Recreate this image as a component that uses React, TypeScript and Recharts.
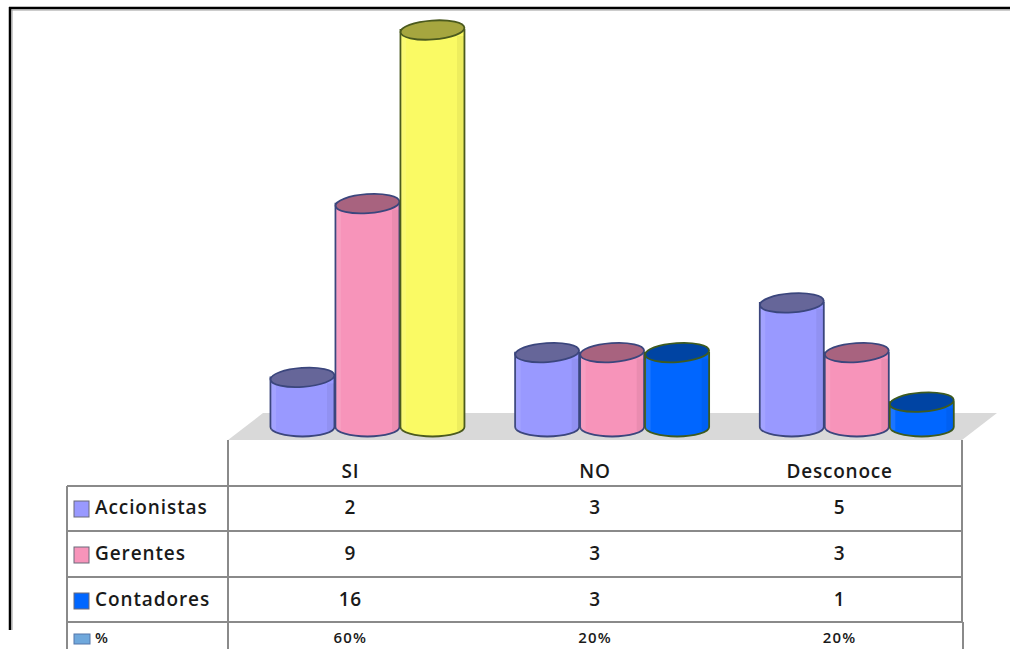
import React from 'react';
import { BarChart, Bar, XAxis, YAxis, Cell, Customized } from 'recharts';

// --- Data ---
const categories = ['SI', 'NO', 'Desconoce'];
const accionistas = [2, 3, 5];
const gerentes = [9, 3, 3];
const contadores = [16, 3, 1];
const porcentaje = ['60%', '20%', '20%'];

const data = categories.map((name, i) => ({
  name,
  accionistas: accionistas[i],
  gerentes: gerentes[i],
  contadores: contadores[i],
  pct: porcentaje[i],
}));

// --- Layout ---
const W = 1010;
const H = 649;
const TABLE_LEFT = 67;
const PLOT_LEFT = 228;
const PLOT_RIGHT = 962;
const FLOOR_BACK = 413;
const FLOOR_FRONT = 440;
const DEPTH_X = 35;
const ROW_LINES = [486, 531, 577, 622];
const ROW_Y = [509, 555, 601];
const AXIS_H = 30;
const FONT = "'Open Sans', 'DejaVu Sans', sans-serif";

type Palette = { body: string; top: string; stroke: string };

const SERIES: { key: 'accionistas' | 'gerentes' | 'contadores'; label: string; color: Palette }[] = [
  { key: 'accionistas', label: 'Accionistas', color: { body: '#9999ff', top: '#666699', stroke: '#3b467d' } },
  { key: 'gerentes', label: 'Gerentes', color: { body: '#f794ba', top: '#a8637f', stroke: '#3b467d' } },
  { key: 'contadores', label: 'Contadores', color: { body: '#0066ff', top: '#0044a3', stroke: '#3e5b1f' } },
];
const HIGHLIGHT: Palette = { body: '#fafa64', top: '#a6a63f', stroke: '#4b5a1e' };
const PCT_COLOR = '#6fa8dc';

const palettes: Record<string, Palette> = {};
SERIES.forEach((s) => (palettes[s.color.body] = s.color));
palettes[HIGHLIGHT.body] = HIGHLIGHT;

// --- Cylinder shape ---
function Cylinder(props: any) {
  const { x, y, width, height, fill } = props;
  if (width == null || height == null) return null;
  const p = palettes[fill] || SERIES[0].color;
  const rx = width / 2 - 0.5;
  const ry = 9.5;
  const cx = x + width / 2 + DEPTH_X / 2;
  const top = y;
  const bottom = y + height;
  const body = `M${cx - rx},${top} L${cx - rx},${bottom} A${rx},${ry} 0 0 0 ${cx + rx},${bottom} L${cx + rx},${top} Z`;
  return (
    <g>
      <path d={body} fill={p.body} stroke={p.stroke} strokeWidth={1.8} />
      <path d={`M${cx - rx + 3},${top + 6} L${cx - rx + 3},${bottom + 3}`} stroke="#ffffff" strokeOpacity={0.1} strokeWidth={5} />
      <path d={`M${cx + rx - 4},${top + 6} L${cx + rx - 4},${bottom + 4}`} stroke="#000000" strokeOpacity={0.05} strokeWidth={7} />
      <ellipse
        cx={cx}
        cy={top}
        rx={rx}
        ry={ry}
        fill={p.top}
        stroke={p.stroke}
        strokeWidth={1.8}
        transform={`rotate(-4 ${cx} ${top})`}
      />
    </g>
  );
}

// --- Table column (header + values) hung off the category axis ---
function TableColumn(props: any) {
  const { x, payload } = props;
  const i = payload.index;
  return (
    <g fontFamily={FONT} fontWeight={600} fill="#1a1a1a" textAnchor="middle" letterSpacing={0.8}>
      <text x={x} y={473} fontSize={19} dominantBaseline="middle">{categories[i]}</text>
      {SERIES.map((s, r) => (
        <text key={s.key} x={x} y={ROW_Y[r]} fontSize={19} dominantBaseline="middle">
          {data[i][s.key]}
        </text>
      ))}
      <text x={x} y={639} fontSize={15} dominantBaseline="middle" letterSpacing={1.2}>{porcentaje[i]}</text>
    </g>
  );
}

// --- Floor under the cylinders ---
function Floor() {
  return (
    <polygon
      points={`${PLOT_LEFT},${FLOOR_FRONT} ${PLOT_RIGHT},${FLOOR_FRONT} ${PLOT_RIGHT + DEPTH_X},${FLOOR_BACK} ${PLOT_LEFT + DEPTH_X},${FLOOR_BACK}`}
      fill="#d9d9d9"
    />
  );
}

// --- Frame, table rules and row keys ---
function TableGrid() {
  return (
    <g>
      <line x1={9} y1={8} x2={W} y2={8} stroke="#000" strokeWidth={2.5} />
      <line x1={11} y1={10} x2={W} y2={10} stroke="#999" strokeWidth={1} />
      <line x1={10} y1={7} x2={10} y2={630} stroke="#000" strokeWidth={2.5} />
      <line x1={12} y1={10} x2={12} y2={630} stroke="#999" strokeWidth={1} />

      <g stroke="#8a8a8a" strokeWidth={2}>
        <line x1={PLOT_LEFT} y1={FLOOR_FRONT} x2={PLOT_LEFT} y2={H} />
        <line x1={PLOT_RIGHT} y1={FLOOR_FRONT} x2={PLOT_RIGHT} y2={622} />
        <line x1={PLOT_RIGHT + 1} y1={622} x2={PLOT_RIGHT + 1} y2={H} />
        <line x1={TABLE_LEFT} y1={ROW_LINES[0]} x2={TABLE_LEFT} y2={H} />
        {ROW_LINES.map((ly) => (
          <line key={ly} x1={TABLE_LEFT} y1={ly} x2={PLOT_RIGHT + 1} y2={ly} />
        ))}
      </g>

      <g fontFamily={FONT} fontWeight={600} fill="#1a1a1a" letterSpacing={0.9}>
        {SERIES.map((s, r) => (
          <g key={s.key}>
            <rect x={74} y={ROW_Y[r] - 8} width={15} height={16} fill={s.color.body} stroke="#6a6a7a" strokeWidth={1} />
            <text x={95} y={ROW_Y[r]} fontSize={19} dominantBaseline="middle">{s.label}</text>
          </g>
        ))}
        <rect x={74} y={634} width={16} height={10} fill={PCT_COLOR} stroke="#5577aa" strokeWidth={1} />
        <text x={95} y={639} fontSize={15} dominantBaseline="middle" letterSpacing={0}>%</text>
      </g>
    </g>
  );
}

export default function App() {
  return (
    <div style={{ width: W, height: H, background: '#fff', position: 'absolute', left: 0, top: 0 }}>
      <BarChart
        width={W}
        height={H}
        data={data}
        margin={{ top: 30, right: W - PLOT_RIGHT, bottom: H - 427 - AXIS_H, left: PLOT_LEFT }}
        barCategoryGap="10%"
        barGap={0}
      >
        <Customized component={<Floor />} />
        <XAxis dataKey="name" height={AXIS_H} axisLine={false} tickLine={false} tick={<TableColumn />} interval={0} />
        <YAxis hide domain={[0, 16]} />
        {SERIES.map((s) => (
          <Bar key={s.key} dataKey={s.key} fill={s.color.body} shape={<Cylinder />} isAnimationActive={false}>
            {data.map((d, i) => (
              <Cell
                key={i}
                fill={s.key === 'contadores' && d.contadores === Math.max(...contadores) ? HIGHLIGHT.body : s.color.body}
              />
            ))}
          </Bar>
        ))}
        <Customized component={<TableGrid />} />
      </BarChart>
    </div>
  );
}
